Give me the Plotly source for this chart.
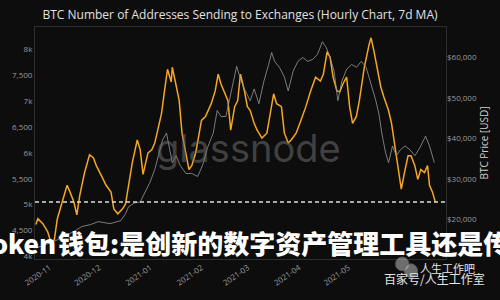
import pandas as pd
import plotly.graph_objects as go

BASE_DATE = "2020-11-01"

# Addresses sending to exchanges (7d MA) : day offset from BASE_DATE, value
addr_days = [-8.3, -7.1, -4.1, -1.2, 1.2, 2.9, 4.7, 7.7, 10.6, 12.4, 14.7, 16.5, 18.3, 21.2, 24.2,
             26.5, 28.3, 31.3, 34.2, 37.2, 38.9, 41.3, 44.2, 46.0, 47.8, 50.1, 53.1, 54.9, 56.6,
             59.6, 61.9, 63.7, 65.5, 67.8, 69.6, 71.4, 73.7, 74.3, 76.7, 78.5, 80.2, 82.6, 84.4,
             86.1, 88.5, 90.3, 92.0, 94.4, 96.2, 97.9, 100.3, 102.1, 103.8, 106.2, 108.0, 109.7,
             112.1, 113.9, 115.6, 118.0, 119.8, 121.5, 123.9, 125.7, 128.6, 131.6, 133.3, 135.7,
             137.5, 140.4, 142.2, 144.5, 146.3, 149.3, 152.2, 155.2, 158.1, 161.1, 164.0, 165.8,
             168.1, 169.9, 171.7, 174.0, 175.8, 177.6, 179.9, 181.7, 183.5, 185.8, 187.6, 190.6,
             193.5, 194.7, 196.5, 198.2, 200.6, 202.4, 205.3, 207.1, 209.4, 211.2, 213.0, 215.3,
             217.1, 218.9, 221.2, 223.0, 224.8, 227.1, 228.9, 230.1, 231.9, 233.6]
addr_values = [4616, 4729, 4634, 4483, 4237, 4331, 4729, 5051, 5373, 5241, 5051, 4805, 5184, 5619,
               5960, 5903, 5752, 5563, 5373, 5241, 4919, 4824, 4919, 5013, 5373, 5809, 6245, 6055,
               5582, 5998, 6055, 6188, 6434, 6756, 7191, 7608, 7362, 7646, 7286, 7002, 6377, 5941,
               5676, 5752, 5998, 6320, 6623, 6699, 6813, 6945, 7191, 7513, 7324, 7135, 7002, 6434,
               6888, 7002, 7513, 7191, 6888, 6813, 6566, 6434, 6282, 6377, 6699, 7135, 6945, 6888,
               6377, 6188, 6245, 6377, 6623, 6888, 7191, 7456, 7381, 7513, 7949, 7835, 7456, 7191,
               7172, 7324, 7456, 6888, 6566, 6699, 7002, 7646, 8081, 8214, 7949, 7646, 7267, 7078,
               6813, 6566, 6055, 5619, 5297, 5676, 5941, 5941, 5752, 5487, 5676, 5619, 5752, 5373,
               5241, 5051]

# BTC price (USD) : day offset from BASE_DATE, value
price_days = [-8.3, -2.9, 2.9, 8.8, 14.7, 19.5, 24.8, 29.5, 36.6, 43.1, 46.0, 47.8, 51.3, 54.9,
              57.8, 60.8, 63.7, 66.1, 68.4, 70.8, 72.6, 74.3, 76.7, 79.1, 82.6, 86.1, 89.7, 92.6,
              95.6, 99.1, 101.5, 103.8, 106.8, 109.1, 111.5, 113.3, 115.6, 118.0, 121.5, 123.9,
              126.8, 129.8, 132.7, 134.5, 136.3, 139.2, 142.2, 144.5, 147.5, 150.4, 153.4, 156.3,
              159.3, 162.2, 165.2, 167.6, 169.9, 172.3, 174.6, 177.0, 179.9, 182.9, 185.8, 188.8,
              191.7, 194.1, 195.9, 197.6, 199.4, 201.2, 203.5, 205.3, 207.7, 210.0, 212.4, 215.3,
              218.3, 221.2, 224.2, 227.7, 230.1, 231.9, 233.0]
price_values = [12982, 13708, 14676, 15886, 17096, 18306, 18790, 19516, 19032, 19758, 21452, 23146,
                24114, 24356, 26776, 29196, 32342, 35730, 39602, 41296, 37666, 34036, 35730, 33310,
                31374, 31374, 30648, 33310, 37666, 41296, 46862, 45410, 45410, 49766, 54606, 57752,
                54606, 52186, 49282, 52186, 48556, 54122, 58236, 61140, 58962, 57510, 55090, 51702,
                56542, 58962, 59930, 58962, 59446, 60656, 63802, 62350, 59930, 56542, 49282, 54122,
                57026, 58236, 57510, 58962, 57510, 54122, 51944, 49282, 46136, 41296, 36456, 34036,
                38150, 35730, 37182, 38150, 37182, 35730, 37666, 40570, 38150, 35730, 34036]

left_tickvals = [4000, 4500, 5000, 5500, 6000, 6500, 7000, 7500, 8000]
left_ticktext = ["4k", "4,500", "5k", "5,500", "6k", "6,500", "7k", "7,500", "8k"]
right_tickvals = [20000, 30000, 40000, 50000, 60000]
right_ticktext = ["$20,000", "$30,000", "$40,000", "$50,000", "$60,000"]
month_ticks = ["2020-11-01", "2020-12-01", "2021-01-01", "2021-02-01", "2021-03-01",
               "2021-04-01", "2021-05-01"]

base = pd.Timestamp(BASE_DATE)
addr_dates = base + pd.to_timedelta(addr_days, unit="D")
price_dates = base + pd.to_timedelta(price_days, unit="D")

BG = "#0d0d0d"
fig = go.Figure()
fig.add_trace(go.Scatter(x=price_dates, y=price_values, mode="lines", yaxis="y2",
                         line=dict(color="rgba(150,150,155,0.8)", width=1), hoverinfo="skip"))
fig.add_trace(go.Scatter(x=addr_dates, y=addr_values, mode="lines",
                         line=dict(color="#f5a623", width=1.5), hoverinfo="skip"))

fig.add_shape(type="line", xref="paper", x0=0, x1=1, yref="y", y0=addr_values[-1], y1=addr_values[-1],
              line=dict(color="#dddddd", width=1.5, dash="4px,3px"))

tickfont = dict(family="Open Sans", size=8, color="#9a9a9a")
fig.update_layout(
    width=500, height=300,
    margin=dict(l=30, r=48, t=27, b=37),
    paper_bgcolor=BG, plot_bgcolor=BG,
    showlegend=False,
    title=dict(text="BTC Number of Addresses Sending to Exchanges (Hourly Chart, 7d MA)",
               x=0.48, xanchor="center", y=0.95, yanchor="middle",
               font=dict(family="Open Sans", size=12, color="#e0e0e0")),
    xaxis=dict(range=["2020-10-23 04:00", "2021-06-29 02:00"], tickvals=month_ticks,
               tickformat="%Y-%m", tickangle=-35, tickfont=tickfont, showgrid=False,
               zeroline=False, showline=True, linecolor="#2e2e2e", mirror=True, ticks=""),
    yaxis=dict(range=[3953, 8422], tickvals=left_tickvals, ticktext=left_ticktext,
               tickfont=tickfont, showgrid=False, zeroline=False, showline=True,
               linecolor="#2e2e2e", mirror=True, ticks=""),
    yaxis2=dict(range=[10320, 67432], overlaying="y", side="right", tickvals=right_tickvals,
                ticktext=right_ticktext, tickfont=tickfont, showgrid=False, zeroline=False,
                title=dict(text="BTC Price [USD]", font=dict(family="Open Sans", size=10, color="#d0d0d0"),
                           standoff=4)),
)

# glassnode watermark
fig.add_annotation(text="glassnode", xref="paper", yref="paper", x=0.52, y=0.48,
                   showarrow=False, font=dict(family="Inter", size=38, color="rgba(110,110,110,0.55)"))

# overlaid article title
big = dict(family="Noto Sans CJK SC", size=26, color="#ffffff", weight=900)
fig.add_annotation(text="imToken", xref="paper", yref="paper", x=(54 - 30) / 422, y=0.07,
                   xanchor="right", yanchor="middle", showarrow=False, font=big)
fig.add_annotation(text="钱包:是创新的数字资产管理工具还是传统", xref="paper", yref="paper",
                   x=(52 - 30) / 422, y=0.07, xanchor="left", yanchor="middle",
                   showarrow=False, font=big)

# bottom-right source watermark
fig.add_shape(type="circle", xref="paper", yref="paper", x0=0.877, x1=0.910, y0=-0.051, y1=0.0085,
              fillcolor="rgba(190,190,190,0.55)", line=dict(color="rgba(90,90,90,0.8)", width=1))
fig.add_shape(type="circle", xref="paper", yref="paper", x0=0.898, x1=0.931, y0=-0.081, y1=-0.021,
              fillcolor="rgba(190,190,190,0.55)", line=dict(color="rgba(90,90,90,0.8)", width=1))
fig.add_annotation(text="人生工作吧", xref="paper", yref="paper", x=(423 - 30) / 422, y=(263 - 272) / 236,
                   xanchor="left", yanchor="middle", showarrow=False,
                   font=dict(family="Noto Sans CJK SC", size=11, color="#e6e6e6"))
fig.add_annotation(text="百家号/人生工作室", xref="paper", yref="paper", x=(386 - 30) / 422, y=(263 - 283) / 236,
                   xanchor="left", yanchor="middle", showarrow=False,
                   font=dict(family="Noto Sans CJK SC", size=12, color="#e6e6e6"))

fig.write_html("out.html")
